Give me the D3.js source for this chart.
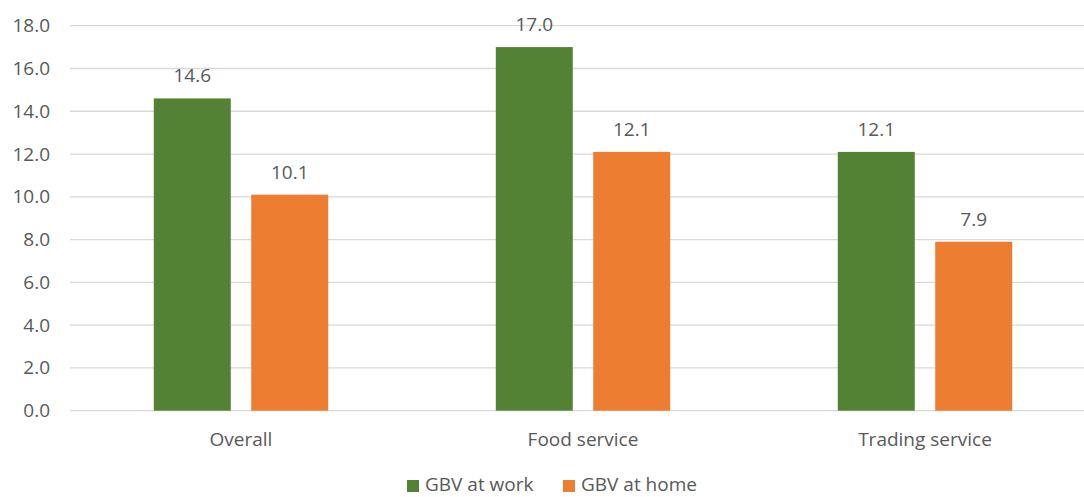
<!DOCTYPE html>
<html>
<head>
<meta charset="utf-8">
<script src="https://cdn.jsdelivr.net/npm/d3@7"></script>
<style>
  html, body { margin: 0; padding: 0; background: #fff; }
  svg { display: block; }
  text { font-family: "Open Sans", "Noto Sans", "Liberation Sans", sans-serif; fill: #595959; }
</style>
</head>
<body>
<svg id="chart" width="1084" height="497"></svg>
<script>
const categories = ["Overall", "Food service", "Trading service"];
const seriesNames = ["GBV at work", "GBV at home"];
const gbvAtWork = [14.6, 17.0, 12.1];
const gbvAtHome = [10.1, 12.1, 7.9];
const yTicks = [0, 2, 4, 6, 8, 10, 12, 14, 16, 18];
const colors = ["#548235", "#ED7D31"];

const seriesValues = [gbvAtWork, gbvAtHome];
const svg = d3.select("#chart");
const fs = 19;

const x0 = d3.scaleBand().domain(categories).range([70, 1096]).paddingInner(0.49).paddingOuter(0.245);
const x1 = d3.scaleBand().domain(seriesNames).range([0, x0.bandwidth()]).paddingInner(0.21);
const y = d3.scaleLinear().domain([0, 18]).range([410.7, 25.7]);

// gridlines
svg.append("g").selectAll("line").data(yTicks).join("line")
  .attr("x1", 70).attr("x2", 1096)
  .attr("y1", d => y(d)).attr("y2", d => y(d))
  .attr("stroke", "#d9d9d9").attr("stroke-width", 1.3);

// y labels
svg.append("g").selectAll("text").data(yTicks).join("text")
  .attr("x", 50).attr("y", d => y(d) + 6.5)
  .attr("text-anchor", "end").attr("font-size", fs)
  .text(d => d.toFixed(1));

// bars
const groups = svg.append("g").selectAll("g").data(categories).join("g")
  .attr("transform", d => `translate(${x0(d)},0)`);

seriesNames.forEach((s, si) => {
  groups.append("rect")
    .attr("x", x1(s))
    .attr("width", x1.bandwidth())
    .attr("y", (d, i) => y(seriesValues[si][i]))
    .attr("height", (d, i) => y(0) - y(seriesValues[si][i]))
    .attr("fill", colors[si]);
  groups.append("text")
    .attr("x", x1(s) + x1.bandwidth() / 2)
    .attr("y", (d, i) => y(seriesValues[si][i]) - 16)
    .attr("text-anchor", "middle").attr("font-size", fs)
    .text((d, i) => seriesValues[si][i].toFixed(1));
});

// category labels
svg.append("g").selectAll("text").data(categories).join("text")
  .attr("x", d => x0(d) + x0.bandwidth() / 2)
  .attr("y", 446)
  .attr("text-anchor", "middle").attr("font-size", fs)
  .text(d => d);

// legend
const legendX = [407, 563];
const leg = svg.append("g").selectAll("g").data(seriesNames).join("g")
  .attr("transform", (d, i) => `translate(${legendX[i]},0)`);
leg.append("rect").attr("x", 0).attr("y", 480).attr("width", 12).attr("height", 12)
  .attr("fill", (d, i) => colors[i]);
leg.append("text").attr("x", 18).attr("y", 491).attr("font-size", fs).text(d => d);
</script>
</body>
</html>
